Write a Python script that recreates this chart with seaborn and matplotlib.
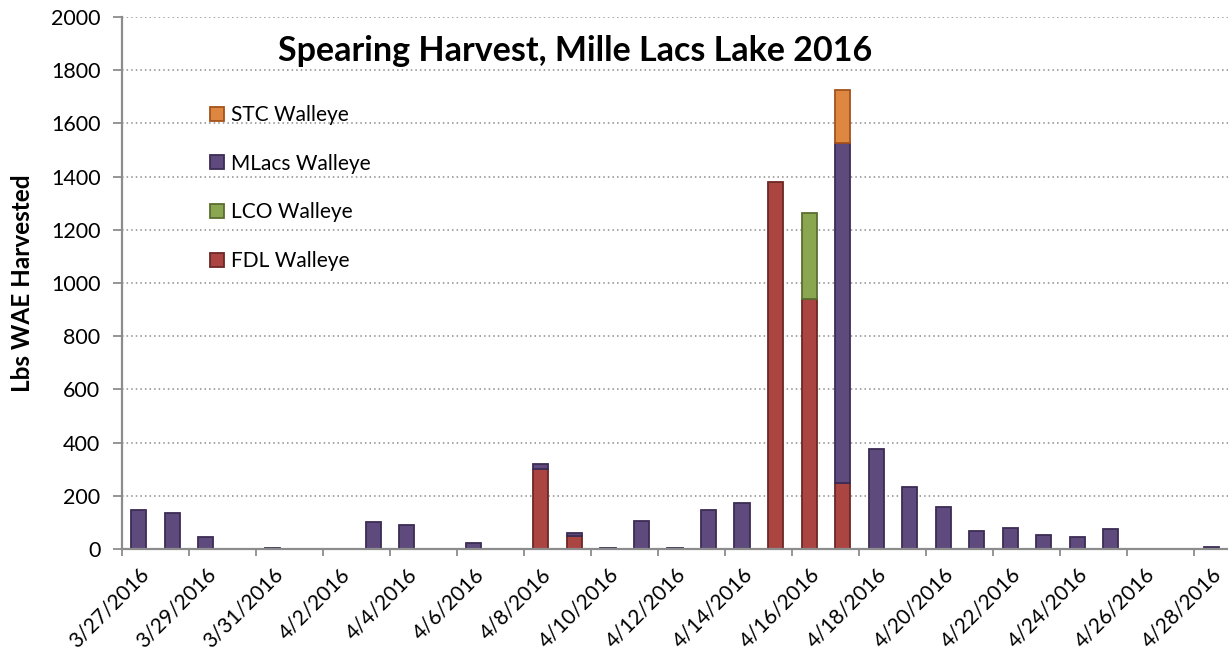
import numpy as np
import pandas as pd
import matplotlib
matplotlib.use("Agg")
import matplotlib.pyplot as plt
import seaborn as sns
from matplotlib.patches import Patch
from matplotlib.colors import to_hex

# ---------------- data ----------------
dates = ["3/27/2016", "3/28/2016", "3/29/2016", "3/30/2016", "3/31/2016",
         "4/1/2016", "4/2/2016", "4/3/2016", "4/4/2016", "4/5/2016",
         "4/6/2016", "4/7/2016", "4/8/2016", "4/9/2016", "4/10/2016",
         "4/11/2016", "4/12/2016", "4/13/2016", "4/14/2016", "4/15/2016",
         "4/16/2016", "4/17/2016", "4/18/2016", "4/19/2016", "4/20/2016",
         "4/21/2016", "4/22/2016", "4/23/2016", "4/24/2016", "4/25/2016",
         "4/26/2016", "4/27/2016", "4/28/2016"]

fdl_walleye = [0, 0, 0, 0, 0, 0, 0, 0, 0, 0, 0, 0, 300, 50, 0, 0, 0, 0, 0,
               1380, 940, 247, 0, 0, 0, 0, 0, 0, 0, 0, 0, 0, 0]
lco_walleye = [0, 0, 0, 0, 0, 0, 0, 0, 0, 0, 0, 0, 0, 0, 0, 0, 0, 0, 0,
               0, 322, 0, 0, 0, 0, 0, 0, 0, 0, 0, 0, 0, 0]
mlacs_walleye = [148, 135, 46, 0, 2, 0, 0, 100, 90, 0, 22, 0, 20, 9, 3, 107,
                 2, 148, 174, 0, 0, 1278, 376, 234, 159, 69, 80, 51, 44, 76,
                 0, 0, 6]
stc_walleye = [0, 0, 0, 0, 0, 0, 0, 0, 0, 0, 0, 0, 0, 0, 0, 0, 0, 0, 0,
               0, 0, 200, 0, 0, 0, 0, 0, 0, 0, 0, 0, 0, 0]

series_names = ["STC Walleye", "MLacs Walleye", "LCO Walleye", "FDL Walleye"]
series_values = [stc_walleye, mlacs_walleye, lco_walleye, fdl_walleye]
face_colors = {"STC Walleye": "#DE8741", "MLacs Walleye": "#5E4A7C",
               "LCO Walleye": "#8BA650", "FDL Walleye": "#AB4542"}
edge_colors = {"STC Walleye": "#A4521B", "MLacs Walleye": "#3C2C55",
               "LCO Walleye": "#5A6E30", "FDL Walleye": "#6C2825"}

rows = []
for name, vals in zip(series_names, series_values):
    for i, v in enumerate(vals):
        rows.append({"day": i, "series": name, "lbs": v})
df = pd.DataFrame(rows)

# ---------------- style ----------------
sns.set_style("white")
plt.rcParams["font.family"] = ["Lato", "DejaVu Sans"]
plt.rcParams["text.color"] = "black"
plt.rcParams["axes.labelcolor"] = "black"

W, H = 1228, 657
fig = plt.figure(figsize=(W / 100, H / 100), dpi=100)
ax = fig.add_axes([122 / W, 1 - 549 / H, 1 - 122 / W, (549 - 17) / H])

sns.histplot(data=df, x="day", weights="lbs", hue="series",
             hue_order=series_names, multiple="stack", discrete=True,
             shrink=0.45, palette=face_colors, alpha=1, linewidth=1.3,
             legend=False, ax=ax)

# per-series edge colours, hide empty bars
fc_to_name = {to_hex(c): n for n, c in face_colors.items()}
for p in ax.patches:
    if p.get_height() <= 0:
        p.set_visible(False)
        continue
    name = fc_to_name.get(to_hex(p.get_facecolor()[:3]))
    if name:
        p.set_edgecolor(edge_colors[name])

ax.set_xlim(-0.5, len(dates) - 0.5)
ax.set_ylim(0, 2000)
ax.set_yticks(np.arange(0, 2001, 200))
ax.yaxis.grid(True, linestyle=(0, (1, 2)), color="#8c8c8c", linewidth=1.1)
ax.xaxis.grid(False)
ax.set_axisbelow(True)

for s in ["top", "right"]:
    ax.spines[s].set_visible(False)
for s in ["left", "bottom"]:
    ax.spines[s].set_color("#8c8c8c")
    ax.spines[s].set_linewidth(1.6)

ax.tick_params(axis="y", direction="out", length=6.5, width=1.3,
               color="#8c8c8c", labelcolor="black", labelsize=15.5, pad=9,
               left=True)
major_pos = list(range(0, len(dates), 2))
ax.set_xticks(major_pos)
ax.set_xticklabels([dates[i] for i in major_pos], rotation=45, ha="right",
                   rotation_mode="anchor", fontsize=15)
ax.tick_params(axis="x", which="major", length=0, pad=11, labelcolor="black")
ax.set_xticks(np.arange(-0.5, len(dates), 2), minor=True)
ax.tick_params(axis="x", which="minor", direction="out", length=5, width=1.3,
               color="#8c8c8c", bottom=True)
ax.set_xlabel("")
ax.set_ylabel("")

fig.text(22.5 / W, 1 - 283 / H, "Lbs WAE Harvested", rotation=90,
         ha="center", va="center", fontsize=17.5, fontweight="bold")
fig.text(575 / W, 1 - 61 / H, "Spearing Harvest, Mille Lacs Lake 2016",
         ha="center", va="baseline", fontsize=24.5, fontweight="bold")

handles = [Patch(facecolor=face_colors[n], edgecolor=edge_colors[n],
                 linewidth=1.3) for n in series_names]
leg = ax.legend(handles, series_names, loc="upper left",
                bbox_to_anchor=(210 / W, 1 - 105 / H),
                bbox_transform=fig.transFigure, frameon=False,
                fontsize=15, handlelength=0.65, handleheight=0.65,
                handletextpad=0.35, labelspacing=1.38, borderpad=0,
                borderaxespad=0)

fig.savefig("out.png", dpi=100)
